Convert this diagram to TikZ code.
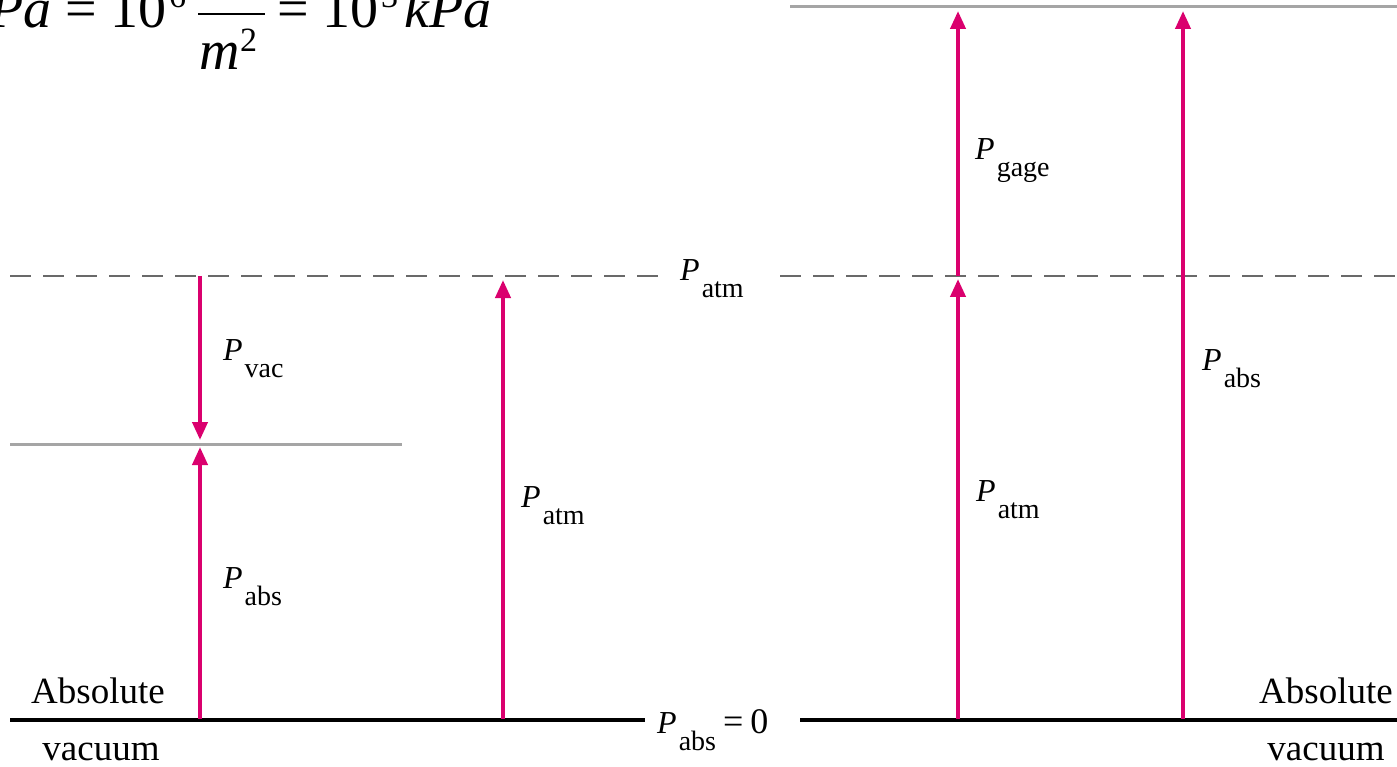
\documentclass[tikz,border=0pt]{standalone}
\usepackage{fontspec}
\setmainfont{Liberation Serif}
\usetikzlibrary{arrows.meta}
\definecolor{mag}{RGB}{218,0,110}
\definecolor{dashgray}{RGB}{105,105,105}
\definecolor{litegray}{RGB}{165,165,165}
\newcommand{\Plab}[1]{\fontsize{32}{36}\selectfont\textit{P}\kern2pt\raisebox{-17pt}{\fontsize{28}{30}\selectfont #1}}
\begin{document}
\begin{tikzpicture}[x=1pt,y=-1pt,
  arr/.style={draw=mag,line width=4pt,-{Triangle[length=18pt,width=15pt]}},
  dashln/.style={draw=dashgray,line width=2.5pt,dash pattern=on 21pt off 12pt},
  grayln/.style={draw=litegray,line width=3pt},
  baseln/.style={draw=black,line width=4.5pt},
  lab/.style={anchor=base west,inner sep=0pt},
  word/.style={anchor=base,inner sep=0pt,font=\fontsize{37}{40}\selectfont},
  big/.style={inner sep=0pt,anchor=base west,font=\fontsize{56}{60}\selectfont},
  supr/.style={inner sep=0pt,anchor=base west,font=\fontsize{34}{36}\selectfont}]
\useasboundingbox (0,0) rectangle (1397,767);
\clip (0,0) rectangle (1397,767);
\fill[white] (0,0) rectangle (1397,767);

% reference lines
\coordinate (dL1) at (10,276);
\coordinate (dL2) at (665,276);
\coordinate (dR1) at (780,276);
\coordinate (dR2) at (1397,276);
\coordinate (gL1) at (10,444);
\coordinate (gL2) at (402,444);
\coordinate (gT1) at (790,7);
\coordinate (gT2) at (1397,7);
\coordinate (bL1) at (10,720);
\coordinate (bL2) at (645,720);
\coordinate (bR1) at (800,720);
\coordinate (bR2) at (1397,720);
\draw[dashln] (dL1) -- (dL2);
\draw[dashln] (dR1) -- (dR2);
\draw[grayln] (gL1) -- (gL2);
\draw[grayln] (gT1) -- (gT2);
\draw[baseln] (bL1) -- (bL2);
\draw[baseln] (bR1) -- (bR2);

% arrows
\coordinate (vacS) at (200,276);
\coordinate (vacE) at (200,440);
\coordinate (abs1S) at (200,719);
\coordinate (abs1E) at (200,447);
\coordinate (atm1S) at (503,719);
\coordinate (atm1E) at (503,280);
\coordinate (atm2S) at (958,719);
\coordinate (atm2E) at (958,279);
\coordinate (gageS) at (958,276);
\coordinate (gageE) at (958,11);
\coordinate (abs2S) at (1183,719);
\coordinate (abs2E) at (1183,11);
\draw[arr] (vacS) -- (vacE);
\draw[arr] (abs1S) -- (abs1E);
\draw[arr] (atm1S) -- (atm1E);
\draw[arr] (atm2S) -- (atm2E);
\draw[arr] (gageS) -- (gageE);
\draw[arr] (abs2S) -- (abs2E);

% labels
\node[lab] (lvac) at (223,360) {\Plab{vac}};
\node[lab] (labs1) at (223,588) {\Plab{abs}};
\node[lab] (latm1) at (521,507) {\Plab{atm}};
\node[lab] (latmd) at (680,281) {\Plab{atm}};
\node[lab] (labs0) at (657,733) {\Plab{abs}\fontsize{36}{40}\selectfont\hspace{7pt}=\hspace{7pt}0};
\node[lab] (lgage) at (975,160) {\Plab{gage}};
\node[lab] (latm2) at (976,501) {\Plab{atm}};
\node[lab] (labs2) at (1202,370) {\Plab{abs}};

\node[word] (absL) at (98,703) {Absolute};
\node[word] (vacL) at (101,760) {vacuum};
\node[word] (absR) at (1326,703) {Absolute};
\node[word] (vacR) at (1326,760) {vacuum};

% top formula (clipped)
\node[big,anchor=base east] (f1) at (167,28) {\textit{MPa} = 10};
\node[supr] (f1s) at (169,8) {6};
\coordinate (fb1) at (198,14);
\coordinate (fb2) at (265,14);
\draw[line width=2.5pt] (fb1) -- (fb2);
\node[big] (fm) at (199,70) {\textit{m}};
\node[supr] (fm2) at (240,52) {2};
\node[big] (f2) at (277,28) {= 10};
\node[supr] (f2s) at (381,8) {3};
\node[big] (f3) at (404,28) {\textit{kPa}};
\end{tikzpicture}
\end{document}
